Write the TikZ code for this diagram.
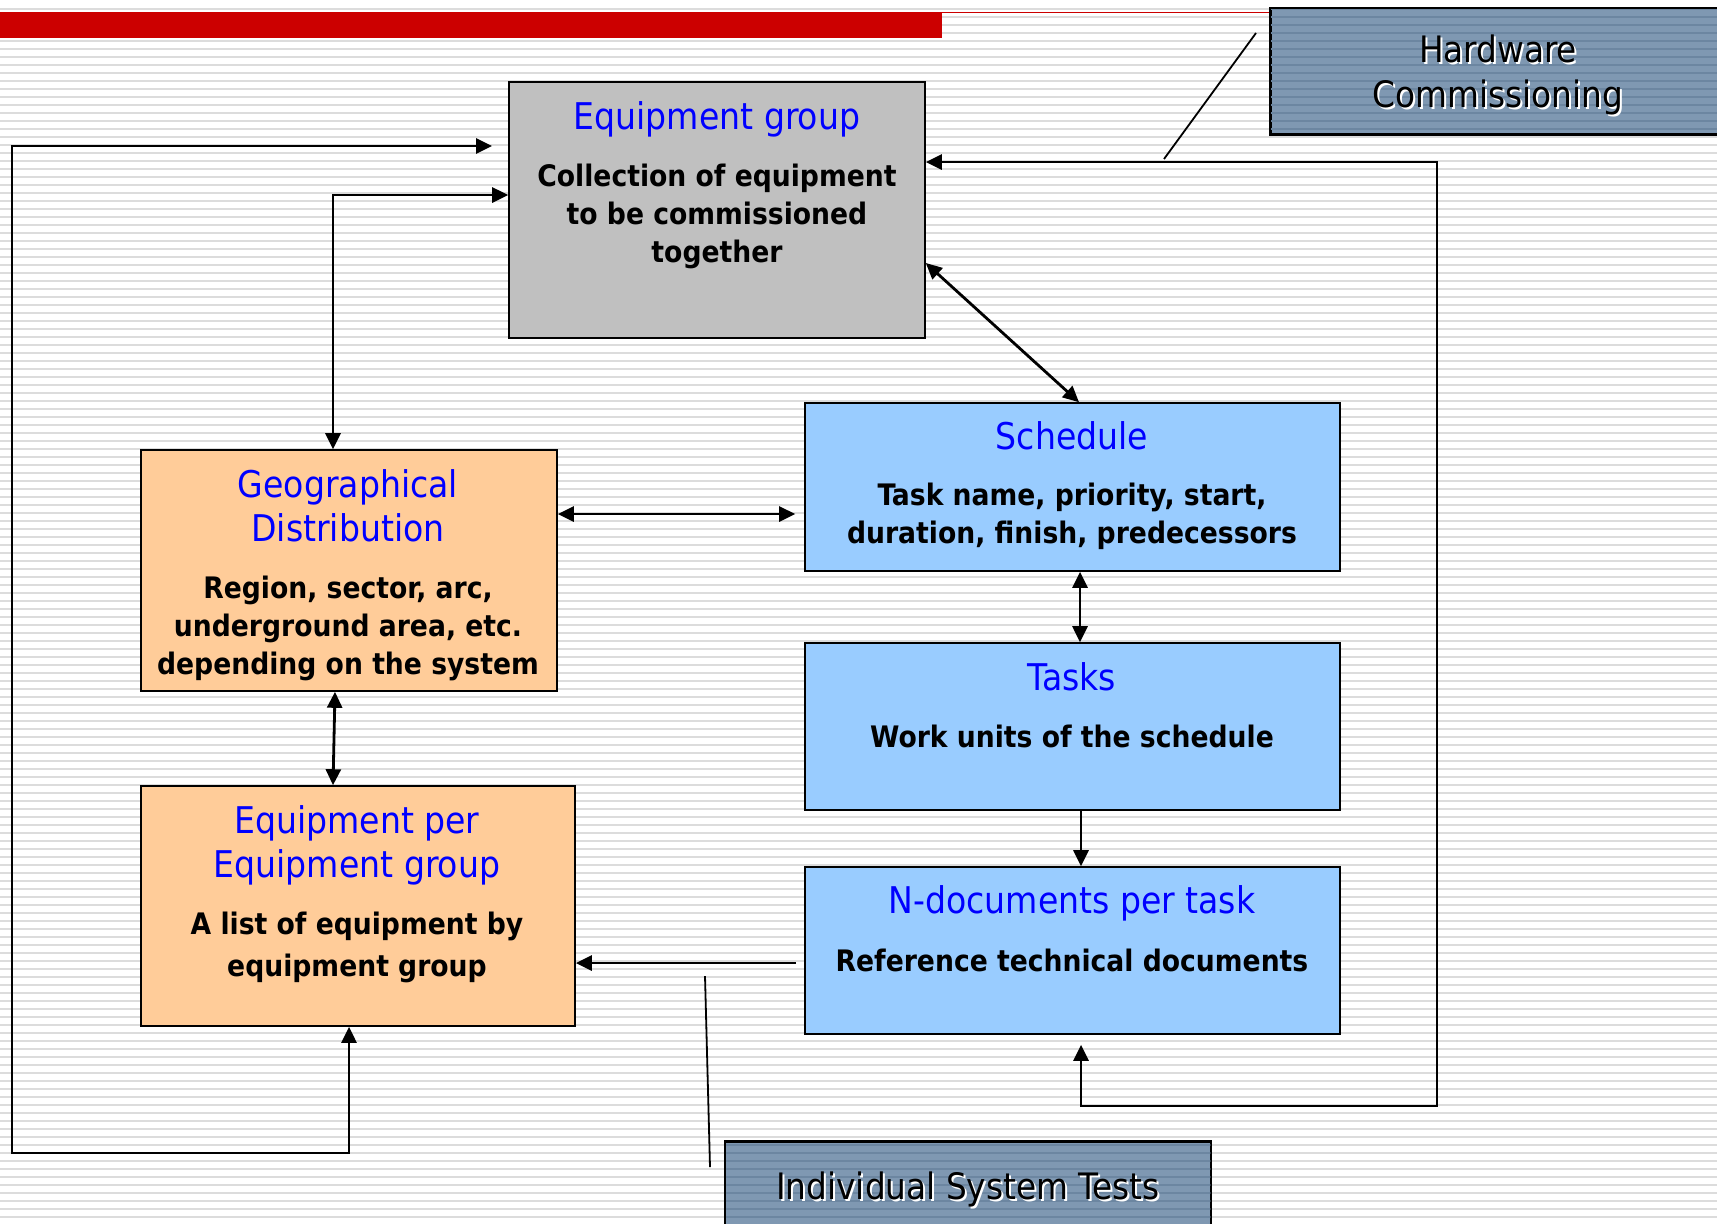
\documentclass[tikz,border=0pt]{standalone}
\usepackage{fontspec}
\setmainfont{DejaVu Sans Condensed}
\usetikzlibrary{arrows.meta}

\definecolor{slidered}{HTML}{CC0000}
\definecolor{bgline}{HTML}{DCDCDC}
\definecolor{boxgrey}{HTML}{C0C0C0}
\definecolor{boxorange}{HTML}{FFCC99}
\definecolor{boxblue}{HTML}{99CCFF}
\definecolor{slate}{HTML}{7F98B2}
\definecolor{slatedark}{HTML}{6C86A1}

\begin{document}
\begin{tikzpicture}[x=0.5pt,y=-0.5pt,
  box/.style={draw=black, line width=0.8pt, inner sep=0pt},
  ttl/.style={text=blue, font=\fontsize{18.4}{22}\selectfont, align=center},
  txt/.style={font=\bfseries\fontsize{14.8}{19}\selectfont, align=center},
  big/.style={font=\fontsize{18.2}{22.5}\selectfont, align=center},
  link/.style={line width=1.4pt, arrows={-Triangle[length=8pt,width=7.5pt]}},
  dlink/.style={link, arrows={Triangle[length=8pt,width=7.5pt]-Triangle[length=8pt,width=7.5pt]}},
  callout/.style={line width=0.9pt}]
\useasboundingbox (0,0) rectangle (1717,1223);
\clip (0,0) rectangle (1717,1223);
\fill[white] (0,0) rectangle (1717,1223);
\foreach \y in {9,17,...,1223}
  \draw[bgline, line width=1pt] (0,\y) -- (1717,\y);
\fill[slidered] (0,12) rectangle (942,38);
\draw[slidered, line width=0.8pt] (942,12.5) -- (1710,12.5);

\node[box, fill=boxgrey, minimum width=208pt, minimum height=128pt] (eg) at (717,210) {};
\node[box, fill=boxorange, minimum width=208pt, minimum height=120.5pt] (gd) at (349,570.5) {};
\node[box, fill=boxorange, minimum width=217pt, minimum height=120pt] (ep) at (358,906) {};
\node[box, fill=boxblue, minimum width=267.5pt, minimum height=84pt] (sc) at (1072.5,487) {};
\node[box, fill=boxblue, minimum width=267.5pt, minimum height=83.5pt] (tk) at (1072.5,726.5) {};
\node[box, fill=boxblue, minimum width=267.5pt, minimum height=83.5pt] (nd) at (1072.5,950.5) {};
\node[box, fill=slate, minimum width=234.5pt, minimum height=62.5pt] (hw) at (1505.5,71.5) {};
\node[box, fill=slate, minimum width=242.5pt, minimum height=48pt] (ist) at (968,1190) {};

\foreach \b in {hw,ist} {
  \begin{scope}
    \clip ([xshift=0.5pt,yshift=-0.5pt]\b.north west) rectangle ([xshift=-0.5pt,yshift=0.5pt]\b.south east);
    \foreach \y in {9,17,...,1223}
      \draw[slatedark, line width=1pt] (0,\y) -- (1717,\y);
  \end{scope}
  \draw[line width=0.8pt] (\b.north west) rectangle (\b.south east);
}

\node[ttl] (egtitle) at (717,119) {Equipment group};
\node[txt] (egtext) at (717,216) {Collection of equipment\\to be commissioned\\together};
\node[ttl] (gdtitle) at (348,506) {Geographical\\Distribution};
\node[txt] (gdtext) at (348,628) {Region, sector, arc,\\underground area, etc.\\depending on the system};
\node[ttl] (eptitle) at (357,845) {Equipment per\\Equipment group};
\node[txt, font=\bfseries\fontsize{14.8}{21}\selectfont] (eptext) at (357,947) {A list of equipment by\\equipment group};
\node[ttl] (sctitle) at (1072,436) {Schedule};
\node[txt] (sctext) at (1072,516) {Task name, priority, start,\\duration, finish, predecessors};
\node[ttl] (tktitle) at (1072,677) {Tasks};
\node[txt] (tktext) at (1072,736) {Work units of the schedule};
\node[ttl] (ndtitle) at (1072,903) {N-documents per task};
\node[txt] (ndtext) at (1072,960) {Reference technical documents};

\node[big, text=white] at (1500,77) {Hardware\\Commissioning};
\node[big] (hwtext) at (1498,75) {Hardware\\Commissioning};
\node[big, text=white] at (970,1191) {Individual System Tests};
\node[big] (isttext) at (968,1189) {Individual System Tests};

\draw[dlink] (492,146) -- (12,146) -- (12,1153) -- (349,1153) -- (349,0 |- ep.south);
\draw[dlink] (eg.west |- 0,195) -| (333,0 |- gd.north);
\draw[dlink, shorten >=4.5pt] (gd.east |- 0,514) -- (sc.west |- 0,514);
\draw[dlink] (eg.east |- 0,263) -- (1079,0 |- sc.north);
\draw[dlink] (1080,0 |- sc.south) -- (1080,0 |- tk.north);
\draw[link] (1081,0 |- tk.south) -- (1081,0 |- nd.north);
\draw[link, shorten <=4pt] (nd.west |- 0,963) -- (ep.east |- 0,963);
\draw[dlink] (335,0 |- gd.south) -- (333,0 |- ep.north);
\draw[dlink, shorten >=5pt] (eg.east |- 0,162) -- (1437,162) -- (1437,1106) -- (1081,1106) -- (1081,0 |- nd.south);

\coordinate (hwtip) at (1256,33);
\coordinate (hwfoot) at (1164,159);
\draw[callout] (hwtip) -- (hwfoot);
\coordinate (isttip) at (705,976);
\coordinate (istfoot) at (710,1167);
\draw[callout] (isttip) -- (istfoot);
\end{tikzpicture}
\end{document}
